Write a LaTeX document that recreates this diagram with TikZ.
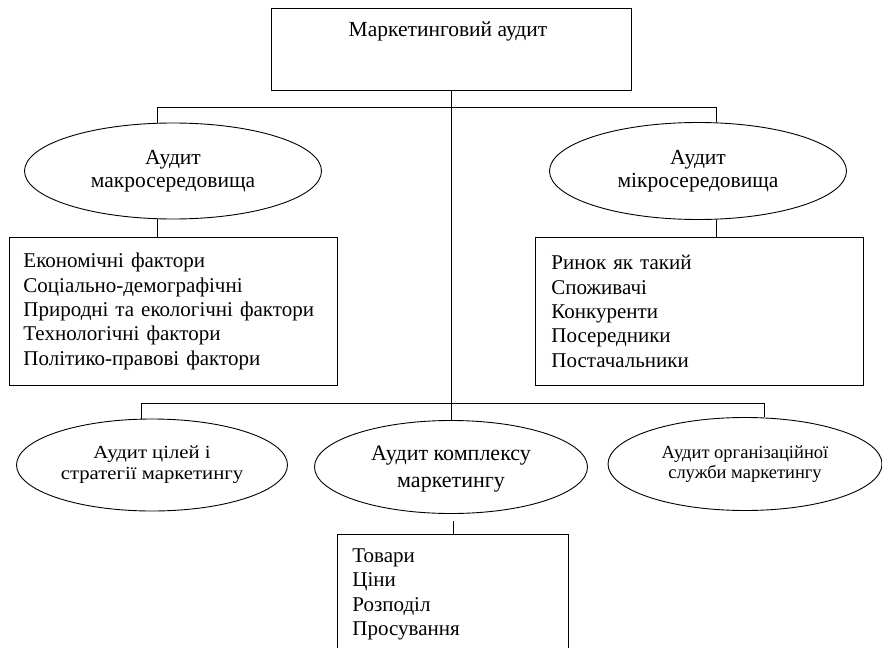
\documentclass[tikz,border=0pt]{standalone}
\usepackage{fontspec}
\setmainfont{Liberation Serif}
\newfontfamily\widefont[FakeStretch=1.12]{Liberation Serif}
\usetikzlibrary{shapes.geometric}
\begin{document}
\begin{tikzpicture}[x=1pt,y=-1pt,line width=0.9pt,
  box/.style={draw,rectangle,inner sep=0pt,anchor=north west},
  listbox/.style={box,align=left,font=\fontsize{21}{24.3}\selectfont},
  oval/.style={draw,ellipse,inner sep=0pt,align=center},
  bigtxt/.style={font=\fontsize{21.5}{23}\selectfont},
  midtxt/.style={font=\fontsize{22}{27}\selectfont},
  smalltxt/.style={font=\widefont\fontsize{18.5}{21}\selectfont},
  orgtxt/.style={font=\fontsize{18.5}{20}\selectfont}]
\clip (0,0) rectangle (882,647);
% top box
\node[box,minimum width=360pt,minimum height=82pt] (top) at (271,8) {};
\node[bigtxt,anchor=base] (toptxt) at (448,37) {Маркетинговий аудит};
% upper ellipses
\node[oval,bigtxt,minimum width=297pt,minimum height=96pt] (macro) at (173,171) {Аудит\\макросередовища};
\node[oval,bigtxt,minimum width=297pt,minimum height=97pt] (micro) at (698,171) {Аудит\\мікросередовища};
% lists
\node[listbox,minimum width=328pt,minimum height=148pt,text width=300pt,inner xsep=14pt] (macrobox) at (9,237)
  {Економічні фактори\\Соціально-демографічні\\Природні та екологічні фактори\\Технологічні фактори\\Політико-правові фактори};
\node[listbox,minimum width=328pt,minimum height=148pt,text width=296pt,inner xsep=16pt] (microbox) at (535,237)
  {Ринок як такий\\Споживачі\\Конкуренти\\Посередники\\Постачальники};
% lower ellipses
\node[oval,smalltxt,minimum width=271pt,minimum height=92pt] (goals) at (152,465) {Аудит цілей і\\стратегії маркетингу};
\node[oval,midtxt,minimum width=273pt,minimum height=93pt] (mix) at (451,467) {\strut Аудит комплексу\\маркетингу};
\node[oval,orgtxt,minimum width=274pt,minimum height=93pt] (org) at (745,464) {Аудит організаційної\\служби маркетингу};
% bottom box
\node[listbox,minimum width=231pt,minimum height=120pt,text width=201pt,inner xsep=15pt] (mixbox) at (337,534)
  {Товари\\Ціни\\Розподіл\\Просування};
% connectors
\coordinate (b1l) at (157,107);
\coordinate (b1r) at (716,107);
\coordinate (b2l) at (141,403);
\coordinate (b2r) at (764,403);
\draw (top.south) -- (top.south |- mix.north);
\draw (b1l) -- (b1r);
\draw (b1l) -- (b1l |- macro.north);
\draw (b1r) -- (b1r |- micro.north);
\draw (b1l |- macro.south) -- (b1l |- macrobox.north);
\draw (b1r |- micro.south) -- (b1r |- microbox.north);
\draw (b2l) -- (b2r);
\draw (b2l) -- (b2l |- goals.north);
\draw (b2r) -- (b2r |- org.north);
\draw[shorten <=7pt] (mixbox.north |- mix.south) -- (mixbox.north);
\end{tikzpicture}
\end{document}
